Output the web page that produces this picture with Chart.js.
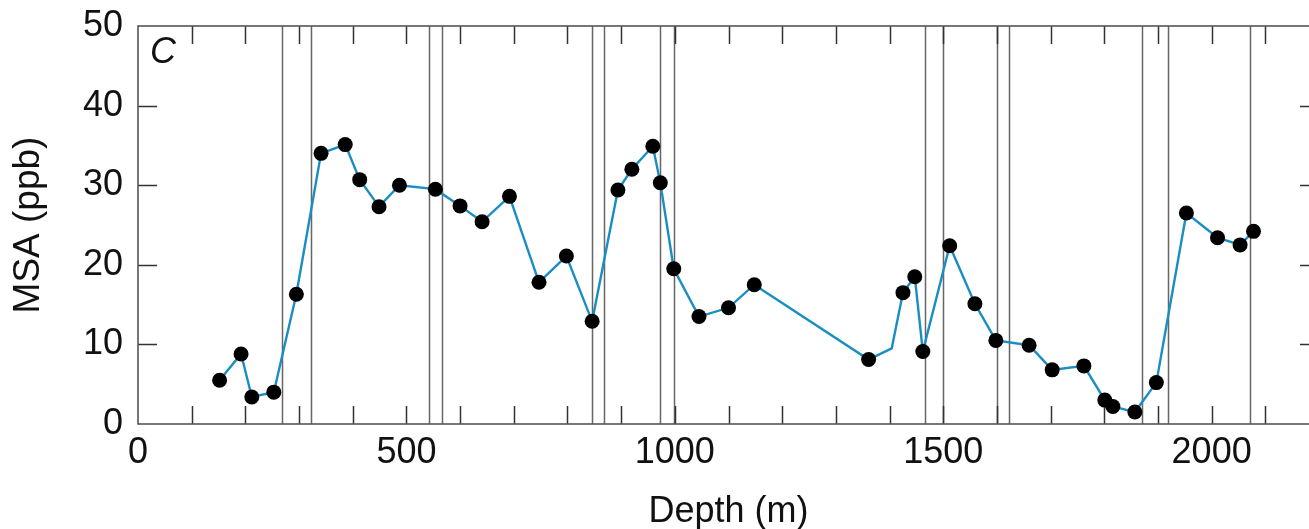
<!DOCTYPE html>
<html>
<head>
<meta charset="utf-8">
<script src="https://cdn.jsdelivr.net/npm/chart.js@4/dist/chart.umd.min.js"></script>
<style>
  body { margin: 0; background: #fff; overflow: hidden; }
  #wrap { position: relative; width: 1330px; height: 534px; }
</style>
</head>
<body>
<div id="wrap"><canvas id="msaChart"></canvas></div>
<script>
// depth (m) and MSA (ppb)
var depth = [152, 192, 212, 253, 295, 341, 386, 413, 449, 487, 554, 600, 641, 692, 747, 798, 846, 894, 920, 959, 973, 998, 1045, 1100, 1148, 1361, 1404, 1425, 1447, 1462, 1512, 1559, 1598, 1660, 1703, 1762, 1801, 1816, 1857, 1897, 1953, 2011, 2053, 2078];
var msa = [5.5, 8.8, 3.4, 4.0, 16.3, 34.0, 35.1, 30.7, 27.3, 30.0, 29.5, 27.4, 25.4, 28.6, 17.8, 21.1, 12.9, 29.4, 32.0, 34.9, 30.3, 19.5, 13.5, 14.6, 17.5, 8.1, 9.5, 16.5, 18.5, 9.1, 22.4, 15.1, 10.5, 9.9, 6.8, 7.3, 3.0, 2.2, 1.5, 5.2, 26.5, 23.4, 22.5, 24.2];
// sample drawn on the line with no dot
var unmarked = [26];
// vertical event lines (depth, m)
var eventDepths = [269, 322, 542, 567, 846, 869, 972, 999, 1466, 1500, 1601, 1623, 1870, 1919, 2071];
var xTickLabels = [0, 500, 1000, 1500, 2000];
var yTickLabels = [0, 10, 20, 30, 40, 50];

var FONT = '"Liberation Sans", Arial, Helvetica, sans-serif';

var points = depth.map(function (d, i) {
  return { x: d, y: msa[i] };
});

// frame, inward ticks and the event lines, under the data
var framePlugin = {
  id: 'frame',
  beforeDatasetsDraw: function (chart) {
    var ctx = chart.ctx;
    var a = chart.chartArea;
    var xs = chart.scales.x;
    var ys = chart.scales.y;
    ctx.save();

    // event lines
    ctx.strokeStyle = '#666';
    ctx.lineWidth = 1.5;
    eventDepths.forEach(function (d) {
      var px = Math.round(xs.getPixelForValue(d)) + 0.5;
      ctx.beginPath();
      ctx.moveTo(px, a.top);
      ctx.lineTo(px, a.bottom);
      ctx.stroke();
    });

    // ticks
    ctx.strokeStyle = '#333';
    ctx.lineWidth = 1.5;
    for (var v = 100; v < 2200; v += 100) {
      var px = Math.round(xs.getPixelForValue(v)) + 0.5;
      ctx.beginPath();
      ctx.moveTo(px, a.bottom);
      ctx.lineTo(px, a.bottom - 18);
      ctx.moveTo(px, a.top);
      ctx.lineTo(px, a.top + 18);
      ctx.stroke();
    }
    for (var w = 10; w < 50; w += 10) {
      var py = Math.round(ys.getPixelForValue(w)) + 0.5;
      ctx.beginPath();
      ctx.moveTo(a.left, py);
      ctx.lineTo(a.left + 19, py);
      ctx.moveTo(a.right, py);
      ctx.lineTo(a.right - 19, py);
      ctx.stroke();
    }

    // frame
    ctx.strokeStyle = '#555';
    ctx.lineWidth = 1.6;
    ctx.strokeRect(a.left, a.top, a.right - a.left, a.bottom - a.top);

    // panel letter
    ctx.fillStyle = '#111';
    ctx.font = 'italic 36px ' + FONT;
    ctx.textAlign = 'left';
    ctx.textBaseline = 'alphabetic';
    ctx.fillText('C', a.left + 12, a.top + 37);
    ctx.restore();
  }
};

new Chart(document.getElementById('msaChart'), {
  type: 'scatter',
  data: {
    datasets: [{
      label: 'MSA',
      data: points,
      showLine: true,
      borderColor: '#1a8ec2',
      borderWidth: 2.4,
      backgroundColor: '#000',
      pointBackgroundColor: '#000',
      pointBorderColor: '#000',
      pointBorderWidth: 0,
      pointRadius: function (ctx) {
        return unmarked.indexOf(ctx.dataIndex) >= 0 ? 0 : 7.5;
      }
    }]
  },
  options: {
    responsive: true,
    maintainAspectRatio: false,
    animation: false,
    layout: { padding: { left: 0, right: 11, top: 26, bottom: 0 } },
    plugins: {
      legend: { display: false },
      tooltip: { enabled: false }
    },
    scales: {
      x: {
        type: 'linear',
        min: 0,
        max: 2200,
        border: { display: false },
        grid: { display: false, drawTicks: false },
        afterBuildTicks: function (scale) {
          scale.ticks = xTickLabels.map(function (v) { return { value: v }; });
        },
        afterFit: function (scale) {
          scale.height = 110;
          scale.paddingLeft = 0;
          scale.paddingRight = 0;
        },
        ticks: {
          autoSkip: false,
          maxRotation: 0,
          padding: 7,
          color: '#111',
          font: { family: FONT, size: 36 },
          callback: function (v) { return String(v); }
        },
        title: {
          display: true,
          text: 'Depth (m)',
          color: '#111',
          font: { family: FONT, size: 36 },
          padding: { top: 0, bottom: 0 }
        }
      },
      y: {
        min: 0,
        max: 50,
        border: { display: false },
        grid: { display: false, drawTicks: false },
        afterBuildTicks: function (scale) {
          scale.ticks = yTickLabels.map(function (v) { return { value: v }; });
        },
        afterFit: function (scale) {
          scale.width = 138;
          scale.paddingTop = 0;
          scale.paddingBottom = 0;
        },
        ticks: {
          padding: 15,
          color: '#111',
          font: { family: FONT, size: 36 },
          callback: function (v) { return String(v); }
        },
        title: {
          display: true,
          text: 'MSA (ppb)',
          color: '#111',
          font: { family: FONT, size: 37 },
          padding: { top: 7, bottom: 0 }
        }
      }
    }
  },
  plugins: [framePlugin]
});
</script>
</body>
</html>
